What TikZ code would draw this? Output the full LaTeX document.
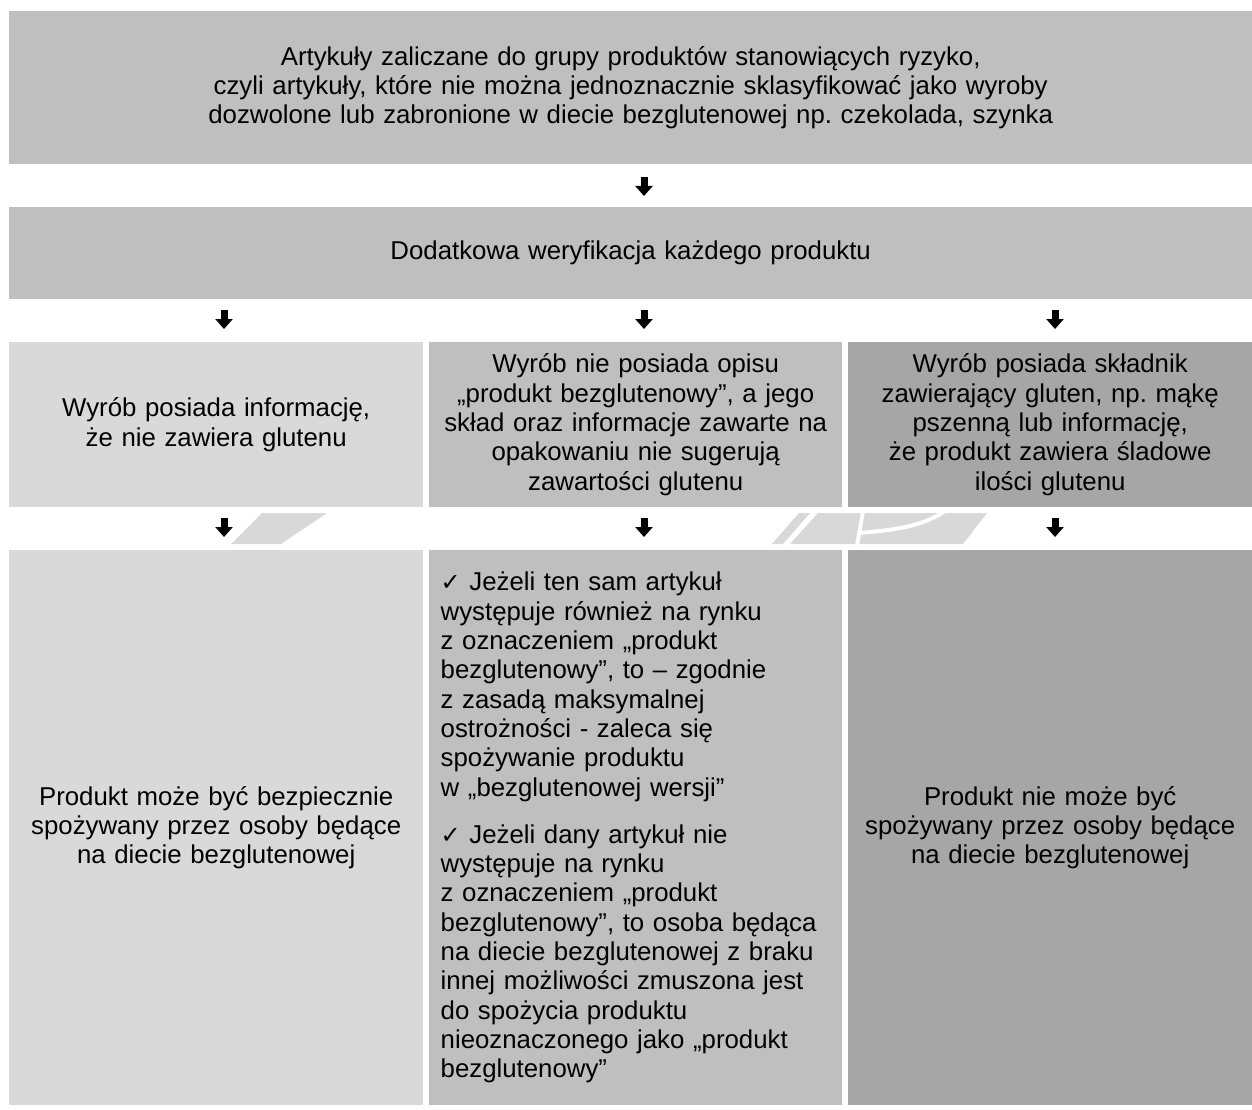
\documentclass[tikz,border=0pt]{standalone}
\usepackage{fontspec}
\setmainfont{Liberation Sans}
\newfontfamily\symfont{DejaVu Sans}
\usetikzlibrary{arrows.meta}
\definecolor{boxA}{HTML}{BFBFBF}
\definecolor{boxL}{HTML}{D9D9D9}
\definecolor{boxD}{HTML}{A6A6A6}
\definecolor{wmark}{HTML}{D8D8D8}
\newcommand{\chk}{{\symfont\fontsize{24}{24}\selectfont ✓}}
\tikzset{
  box/.style={anchor=north west, inner sep=0pt, align=center,
    font=\frenchspacing\fontsize{25.8}{29.3}\selectfont, text=black},
  blockarrow/.style={line width=7pt, -{Triangle[width=17pt,length=10pt]}, black},
}
\begin{document}
\begin{tikzpicture}[x=1pt,y=-1pt]
\useasboundingbox (0,0) rectangle (1252,1110);
% faint watermark visible between the rows
\begin{scope}
  \clip (0,513) rectangle (1252,544);
  \fill[wmark] (231,544) -- (281,544) -- (327,513) -- (262,513) -- cycle;
  \fill[wmark] (772,544) -- (783,544) -- (810,513) -- (799,513) -- cycle;
  \fill[wmark] (790,544) -- (818,513) -- (987,513) -- (963,544) -- cycle;
  \draw[white, line width=4pt] (857,546) -- (863,511);
  \draw[white, line width=4pt] (860,533) .. controls (890,530) and (920,528) .. (945,511);
\end{scope}
% boxes
\node[box, fill=boxA, minimum width=1243pt, minimum height=153pt, text width=1200pt] (top) at (9,11)
  {Artykuły zaliczane do grupy produktów stanowiących ryzyko,\\
   czyli artykuły, które nie można jednoznacznie sklasyfikować jako wyroby\\
   dozwolone lub zabronione w diecie bezglutenowej np. czekolada, szynka};
\node[box, fill=boxA, minimum width=1243pt, minimum height=92pt, text width=1200pt] (ver) at (9,207)
  {Dodatkowa weryfikacja każdego produktu};
\node[box, fill=boxL, minimum width=414pt, minimum height=165pt, text width=400pt] (l3) at (9,342)
  {Wyrób posiada informację,\\ że nie zawiera glutenu};
\node[box, fill=boxA, minimum width=413pt, minimum height=165pt, text width=405pt] (m3) at (429,342)
  {Wyrób nie posiada opisu\\ „produkt bezglutenowy”, a jego\\ skład oraz informacje zawarte na\\ opakowaniu nie sugerują\\ zawartości glutenu};
\node[box, fill=boxD, minimum width=404pt, minimum height=165pt, text width=395pt] (r3) at (848,342)
  {Wyrób posiada składnik\\ zawierający gluten, np. mąkę\\ pszenną lub informację,\\ że produkt zawiera śladowe\\ ilości glutenu};
\node[box, fill=boxL, minimum width=414pt, minimum height=555pt, text width=400pt] (l4) at (9,550)
  {Produkt może być bezpiecznie\\ spożywany przez osoby będące\\ na diecie bezglutenowej};
\node[box, fill=boxA, minimum width=413pt, minimum height=555pt, text width=390pt, align=left] (m4) at (429,550)
  {\chk\ Jeżeli ten sam artykuł\\
   występuje również na rynku\\
   z oznaczeniem „produkt\\
   bezglutenowy”, to – zgodnie\\
   z zasadą maksymalnej\\
   ostrożności - zaleca się\\
   spożywanie produktu\\
   w „bezglutenowej wersji”\\[18pt]
   \chk\ Jeżeli dany artykuł nie\\
   występuje na rynku\\
   z oznaczeniem „produkt\\
   bezglutenowy”, to osoba będąca\\
   na diecie bezglutenowej z braku\\
   innej możliwości zmuszona jest\\
   do spożycia produktu\\
   nieoznaczonego jako „produkt\\
   bezglutenowy”};
\node[box, fill=boxD, minimum width=404pt, minimum height=555pt, text width=395pt] (r4) at (848,550)
  {Produkt nie może być\\ spożywany przez osoby będące\\ na diecie bezglutenowej};
% arrow columns
\coordinate (ca) at (224,0);
\coordinate (cb) at (644,0);
\coordinate (cc) at (1055,0);
\draw[blockarrow, shorten <=13pt, shorten >=11pt] (cb |- top.south) -- (cb |- ver.north);
\draw[blockarrow, shorten <=11pt, shorten >=13pt] (ca |- ver.south) -- (ca |- l3.north);
\draw[blockarrow, shorten <=11pt, shorten >=13pt] (cb |- ver.south) -- (cb |- m3.north);
\draw[blockarrow, shorten <=11pt, shorten >=13pt] (cc |- ver.south) -- (cc |- r3.north);
\draw[blockarrow, shorten <=11pt, shorten >=13pt] (ca |- l3.south) -- (ca |- l4.north);
\draw[blockarrow, shorten <=11pt, shorten >=13pt] (cb |- m3.south) -- (cb |- m4.north);
\draw[blockarrow, shorten <=11pt, shorten >=13pt] (cc |- r3.south) -- (cc |- r4.north);
\end{tikzpicture}
\end{document}
